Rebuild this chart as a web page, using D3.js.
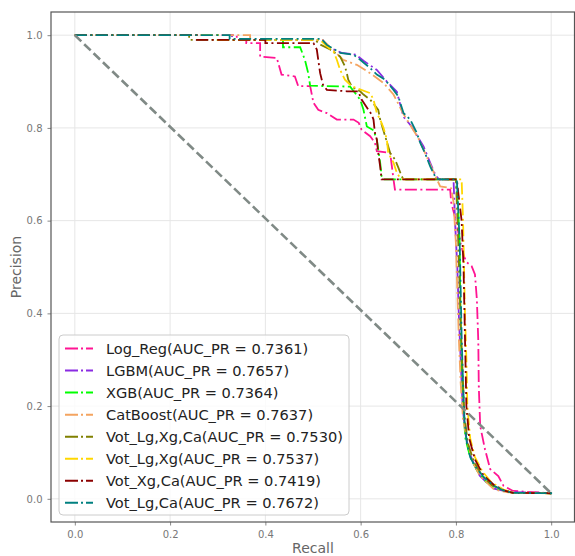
<!DOCTYPE html>
<html>
<head>
<meta charset="utf-8">
<script src="https://cdn.jsdelivr.net/npm/d3@7"></script>
<style>
  body { margin: 0; background: #fff; }
  text { font-family: "DejaVu Sans", sans-serif; }
</style>
</head>
<body>
<div id="area1"></div>
<script>
// model names, AUC values and colours, in the order they were plotted
var models = ["Log_Reg", "LGBM", "XGB", "CatBoost", "Vot_Lg,Xg,Ca", "Vot_Lg,Xg", "Vot_Xg,Ca", "Vot_Lg,Ca"];
var aucPR = ["0.7361", "0.7657", "0.7364", "0.7637", "0.7530", "0.7537", "0.7419", "0.7672"];
var colors = ["#ff1493", "#8a2be2", "#00ff00", "#f4a460", "#808000", "#ffd700", "#8b0000", "#008080"];

// [recall, precision]
var logReg = [[0,1],[0.34,1],[0.34,0.99],[0.36,0.99],[0.36,0.983],[0.389,0.983],[0.389,0.954],[0.424,0.951],[0.434,0.915],[0.462,0.911],[0.469,0.89],[0.494,0.89],[0.501,0.854],[0.511,0.839],[0.529,0.832],[0.55,0.818],[0.585,0.818],[0.596,0.811],[0.602,0.796],[0.62,0.782],[0.63,0.768],[0.634,0.75],[0.662,0.746],[0.669,0.689],[0.672,0.667],[0.788,0.667],[0.79,0.64],[0.80,0.60],[0.81,0.55],[0.818,0.52],[0.823,0.51],[0.833,0.502],[0.84,0.484],[0.844,0.43],[0.847,0.34],[0.848,0.243],[0.851,0.157],[0.861,0.107],[0.872,0.064],[0.889,0.049],[0.9,0.028],[0.92,0.017],[1,0.012]];
var lgbm = [[0,1],[0.33,1],[0.33,0.99],[0.52,0.99],[0.53,0.975],[0.56,0.962],[0.59,0.958],[0.606,0.945],[0.634,0.925],[0.655,0.9],[0.676,0.878],[0.69,0.824],[0.707,0.803],[0.732,0.76],[0.748,0.72],[0.758,0.696],[0.765,0.689],[0.795,0.689],[0.796,0.66],[0.798,0.6],[0.80,0.56],[0.803,0.5],[0.806,0.4],[0.81,0.3],[0.814,0.2],[0.82,0.14],[0.828,0.1],[0.84,0.07],[0.85,0.05],[0.865,0.035],[0.88,0.022],[0.91,0.015],[1,0.012]];
var xgb = [[0,1],[0.3,1],[0.3,0.99],[0.437,0.99],[0.437,0.974],[0.473,0.974],[0.483,0.947],[0.49,0.918],[0.494,0.891],[0.578,0.889],[0.599,0.861],[0.606,0.839],[0.613,0.803],[0.627,0.795],[0.634,0.775],[0.637,0.753],[0.641,0.725],[0.644,0.696],[0.648,0.689],[0.80,0.689],[0.805,0.62],[0.808,0.55],[0.809,0.45],[0.81,0.38],[0.812,0.3],[0.815,0.2],[0.82,0.13],[0.83,0.09],[0.845,0.06],[0.865,0.035],[0.89,0.02],[0.92,0.013],[1,0.012]];
var catBoost = [[0,1],[0.368,1],[0.368,0.99],[0.52,0.99],[0.54,0.97],[0.563,0.947],[0.592,0.936],[0.62,0.918],[0.648,0.897],[0.669,0.872],[0.69,0.83],[0.697,0.818],[0.72,0.78],[0.74,0.735],[0.76,0.689],[0.767,0.674],[0.79,0.67],[0.795,0.64],[0.80,0.55],[0.803,0.45],[0.806,0.35],[0.81,0.25],[0.815,0.17],[0.825,0.12],[0.835,0.08],[0.85,0.05],[0.87,0.03],[0.88,0.02],[0.91,0.014],[1,0.012]];
var votLgXgCa = [[0,1],[0.24,1],[0.24,0.99],[0.504,0.99],[0.515,0.98],[0.536,0.969],[0.557,0.954],[0.567,0.933],[0.571,0.918],[0.574,0.904],[0.581,0.89],[0.592,0.882],[0.599,0.879],[0.606,0.872],[0.62,0.861],[0.637,0.839],[0.641,0.818],[0.652,0.78],[0.662,0.746],[0.672,0.732],[0.679,0.715],[0.686,0.696],[0.69,0.689],[0.80,0.689],[0.802,0.64],[0.805,0.55],[0.808,0.45],[0.811,0.35],[0.815,0.25],[0.818,0.18],[0.825,0.12],[0.838,0.08],[0.855,0.05],[0.875,0.03],[0.9,0.018],[0.92,0.013],[1,0.012]];
var votLgXg = [[0,1],[0.3,1],[0.3,0.99],[0.515,0.99],[0.529,0.976],[0.543,0.965],[0.55,0.947],[0.557,0.925],[0.567,0.904],[0.581,0.89],[0.62,0.875],[0.627,0.861],[0.634,0.832],[0.641,0.818],[0.648,0.8],[0.655,0.775],[0.658,0.746],[0.669,0.725],[0.676,0.703],[0.683,0.692],[0.69,0.689],[0.812,0.689],[0.815,0.6],[0.817,0.5],[0.819,0.4],[0.822,0.3],[0.824,0.2],[0.83,0.13],[0.84,0.09],[0.855,0.06],[0.875,0.035],[0.9,0.02],[0.92,0.013],[1,0.012]];
var votXgCa = [[0,1],[0.256,1],[0.256,0.99],[0.40,0.99],[0.40,0.983],[0.501,0.983],[0.508,0.969],[0.511,0.947],[0.515,0.918],[0.521,0.893],[0.529,0.882],[0.571,0.879],[0.595,0.879],[0.602,0.861],[0.623,0.829],[0.627,0.818],[0.63,0.789],[0.634,0.775],[0.637,0.746],[0.641,0.717],[0.644,0.689],[0.802,0.689],[0.805,0.66],[0.812,0.6],[0.816,0.5],[0.818,0.4],[0.82,0.3],[0.822,0.2],[0.828,0.13],[0.84,0.085],[0.858,0.05],[0.88,0.03],[0.9,0.018],[0.92,0.013],[1,0.012]];
var votLgCa = [[0,1],[0.325,1],[0.325,0.992],[0.518,0.992],[0.529,0.979],[0.557,0.962],[0.585,0.958],[0.599,0.947],[0.62,0.929],[0.634,0.915],[0.651,0.904],[0.669,0.882],[0.679,0.868],[0.69,0.832],[0.704,0.818],[0.718,0.789],[0.725,0.768],[0.735,0.746],[0.746,0.717],[0.756,0.696],[0.763,0.689],[0.802,0.689],[0.805,0.62],[0.808,0.55],[0.81,0.45],[0.812,0.35],[0.815,0.25],[0.818,0.17],[0.823,0.12],[0.83,0.09],[0.84,0.07],[0.86,0.045],[0.88,0.028],[0.9,0.018],[0.92,0.013],[1,0.012],[1,0.003]];
var curves = [logReg, lgbm, xgb, catBoost, votLgXgCa, votLgXg, votXgCa, votLgCa];

// no-skill line
var baseline = [[0,1],[1,0.012]];
var ticks = [0, 0.2, 0.4, 0.6, 0.8, 1.0];

var margin = {top: 12, right: 0, bottom: 34, left: 51},
  width = 575 - margin.left - margin.right,
  height = 556 - margin.top - margin.bottom;

var svg = d3.select("#area1")
  .append("svg")
    .attr("width", 575)
    .attr("height", 556);

var chart = svg.append("g")
    .attr("transform", "translate(" + margin.left + "," + margin.top + ")");

var x = d3.scaleLinear().domain([-0.05, 1.05]).range([0, width]);
var y = d3.scaleLinear().domain([-0.05, 1.05]).range([height, 0]);

// grid
chart.append("g").selectAll("line")
  .data(ticks)
  .enter().append("line")
    .attr("x1", function(d) { return x(d); })
    .attr("x2", function(d) { return x(d); })
    .attr("y1", 0).attr("y2", height)
    .attr("stroke", "#e6e6e6");
chart.append("g").selectAll("line")
  .data(ticks)
  .enter().append("line")
    .attr("y1", function(d) { return y(d); })
    .attr("y2", function(d) { return y(d); })
    .attr("x1", 0).attr("x2", width)
    .attr("stroke", "#e6e6e6");

var xAxis = chart.append("g")
    .attr("transform", "translate(0," + height + ")")
    .call(d3.axisBottom(x).tickValues(ticks).tickFormat(d3.format(".1f")).tickSizeOuter(0).tickSize(3.5).tickPadding(5));
var yAxis = chart.append("g")
    .call(d3.axisLeft(y).tickValues(ticks).tickFormat(d3.format(".1f")).tickSizeOuter(0).tickSize(3.5).tickPadding(5));

[xAxis, yAxis].forEach(function(a) {
  a.select(".domain").remove();
  a.selectAll("line").attr("stroke", "#888");
  a.selectAll("text").attr("fill", "#777").style("font-size", "10px");
});

// frame
chart.append("rect")
    .attr("x", 0).attr("y", 0)
    .attr("width", width - 0.5).attr("height", height)
    .attr("fill", "none")
    .attr("stroke", "#555")
    .attr("stroke-width", 1.2);

var line = d3.line()
    .x(function(d) { return x(d[0]); })
    .y(function(d) { return y(d[1]); });

chart.append("g").selectAll("path")
  .data(curves)
  .enter().append("path")
    .attr("d", line)
    .attr("fill", "none")
    .attr("stroke", function(d, i) { return colors[i]; })
    .attr("stroke-width", 1.8)
    .attr("stroke-dasharray", "12,3.5,2,3.5");

chart.append("path")
    .attr("d", line(baseline))
    .attr("fill", "none")
    .attr("stroke", "#808a86")
    .attr("stroke-width", 2.6)
    .attr("stroke-dasharray", "9,4");

// axis labels
svg.append("text")
    .attr("x", margin.left + x(0.5))
    .attr("y", 553)
    .attr("text-anchor", "middle")
    .attr("fill", "#666")
    .style("font-size", "14px")
    .text("Recall");
svg.append("text")
    .attr("transform", "translate(21," + (margin.top + y(0.5)) + ") rotate(-90)")
    .attr("text-anchor", "middle")
    .attr("fill", "#666")
    .style("font-size", "14px")
    .text("Precision");

// legend
var legend = svg.append("g")
    .attr("transform", "translate(59,335)");
legend.append("rect")
    .attr("width", 290).attr("height", 180)
    .attr("rx", 4)
    .attr("fill", "#fff").attr("fill-opacity", 0.8)
    .attr("stroke", "#ccc");

var item = legend.selectAll("g.item")
  .data(models)
  .enter().append("g")
    .attr("class", "item")
    .attr("transform", function(d, i) { return "translate(0," + (13.5 + i * 22.05) + ")"; });
item.append("line")
    .attr("x1", 6).attr("x2", 34)
    .attr("stroke", function(d, i) { return colors[i]; })
    .attr("stroke-width", 2)
    .attr("stroke-dasharray", "13,3,2,3");
item.append("text")
    .attr("x", 47)
    .attr("dy", "0.35em")
    .attr("fill", "#222")
    .style("font-size", "14.6px")
    .text(function(d, i) { return d + "(AUC_PR = " + aucPR[i] + ")"; });
</script>
</body>
</html>
